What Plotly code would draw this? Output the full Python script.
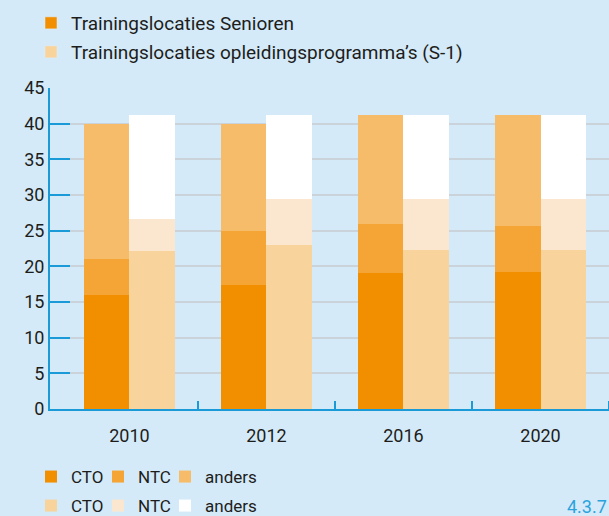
import numpy as np
import plotly.graph_objects as go

# ---- data ----
years = ["2010", "2012", "2016", "2020"]
senior_cto = [16.0, 17.4, 19.1, 19.2]
senior_ntc = [5.0, 7.6, 6.8, 6.5]
senior_anders = [19.0, 15.0, 15.3, 15.5]
s1_cto = [22.1, 23.0, 22.3, 22.3]
s1_ntc = [4.5, 6.4, 7.1, 7.1]
s1_anders = [14.6, 11.8, 11.8, 11.8]
y_ticks = [0, 5, 10, 15, 20, 25, 30, 35, 40, 45]
part_names = ["CTO", "NTC", "anders"]
group_names = ["Trainingslocaties Senioren", "Trainingslocaties opleidingsprogramma’s (S-1)"]

# ---- styling ----
BG = "#d4eaf8"
BLUE = "#1b9ad8"
GRID = "#cad3d9"
TXT = "#1d1d1b"
FONT = "Roboto"
C_S = ["#f18f00", "#f5a535", "#f6bc69"]
C_1 = ["#f8d39b", "#fbe7cf", "#ffffff"]

x = np.arange(len(years))
W = 0.333

fig = go.Figure()

def stack(vals_list, colors, offset, legends):
    base = np.zeros(len(years))
    for vals, col, name, lg in zip(vals_list, colors, part_names, legends):
        v = np.array(vals)
        fig.add_trace(go.Bar(
            x=x, y=v, base=base.copy(), width=W, offset=offset,
            marker=dict(color=col, line=dict(width=0)),
            name=name, legend=lg, showlegend=True, hoverinfo="skip",
        ))
        base = base + v

stack([senior_cto, senior_ntc, senior_anders], C_S, -W, ["legend3", "legend4", "legend5"])
stack([s1_cto, s1_ntc, s1_anders], C_1, 0.0, ["legend6", "legend7", "legend8"])

# legend-only entries for the top legend
fig.add_trace(go.Bar(x=[None], y=[None], marker=dict(color=C_S[0]),
                     name=group_names[0], legend="legend", showlegend=True))
fig.add_trace(go.Bar(x=[None], y=[None], marker=dict(color=C_1[0]),
                     name=group_names[1], legend="legend2", showlegend=True))

def leg(cx, cy, size):
    # cx, cy: pixel centre of the legend symbol
    return dict(xref="container", yref="container", x=(cx - 20) / 609, y=1 - cy / 516,
                xanchor="left", yanchor="middle", bgcolor="rgba(0,0,0,0)",
                borderwidth=0, font=dict(family=FONT, size=size, color=TXT),
                itemclick=False, itemdoubleclick=False, tracegroupgap=0)

fig.update_layout(
    width=609, height=516,
    margin=dict(l=50, r=0, t=88, b=107, autoexpand=False),
    paper_bgcolor=BG, plot_bgcolor=BG,
    barmode="overlay", bargap=0,
    font=dict(family=FONT, size=18, color=TXT),
    showlegend=True,
    legend=leg(51, 23, 19),
    legend2=leg(51, 52, 19),
    legend3=leg(51, 477, 17),
    legend4=leg(118, 477, 17),
    legend5=leg(185, 477, 17),
    legend6=leg(51, 506, 17),
    legend7=leg(118, 506, 17),
    legend8=leg(185, 506, 17),
    xaxis=dict(
        range=[-0.58, 3.5], tickvals=x, ticktext=years, ticks="",
        showline=True, linecolor=BLUE, linewidth=2, showgrid=False, zeroline=False,
        ticklabelstandoff=9, tickfont=dict(family=FONT, size=18, color=TXT),
        minor=dict(tickmode="array", tickvals=[0.5, 1.5, 2.5, 3.5], ticks="inside",
                   ticklen=8, tickwidth=2, tickcolor=BLUE, showgrid=False),
    ),
    yaxis=dict(
        range=[0, 45], tickvals=y_ticks, ticks="inside", ticklen=20, tickwidth=2,
        tickcolor=BLUE, showline=True, linecolor=BLUE, linewidth=2,
        showgrid=True, gridcolor=GRID, gridwidth=1.5, zeroline=False,
        tickfont=dict(family=FONT, size=18, color=TXT), ticklabelstandoff=0,
    ),
    annotations=[dict(text="4.3.7", xref="paper", yref="paper", x=1, y=0,
                      xanchor="right", yanchor="middle", yshift=-97, showarrow=False,
                      font=dict(family=FONT, size=18, color="#2aa3dd"))],
)

fig.write_html("out.html", config={"displayModeBar": False},
               post_script="document.body.style.margin='0';")
